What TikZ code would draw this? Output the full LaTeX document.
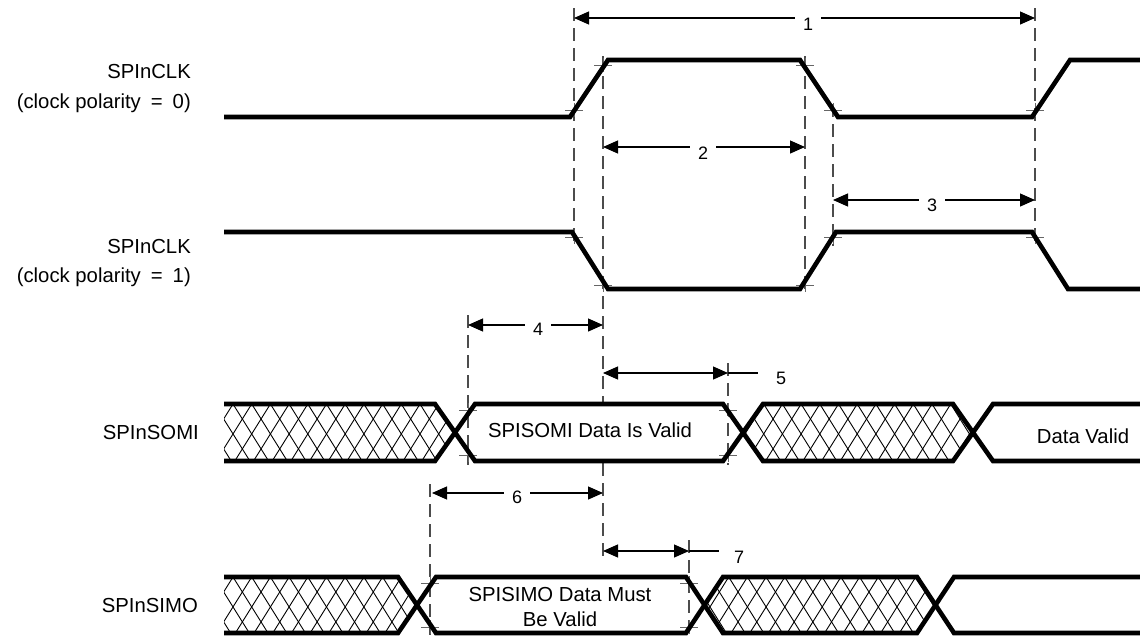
\documentclass[tikz,border=0pt]{standalone}
\usepackage{fontspec}
\setmainfont{Liberation Sans}
\usetikzlibrary{arrows.meta}
\newcommand\wideeq{\hspace{10pt}=\hspace{10pt}}
\begin{document}
\begin{tikzpicture}[x=1pt,y=-1pt,
  sig/.style={line width=4.6pt, line join=miter},
  guide/.style={black!70, line width=1.2pt, dash pattern=on 13pt off 7pt},
  tickmark/.style={black!60, line width=1pt},
  dim/.style={line width=1.2pt, {Triangle[length=15pt,width=13pt]}-{Triangle[length=15pt,width=13pt]}},
  extline/.style={line width=1.2pt},
  lbl/.style={font=\fontsize{20.3}{24}\selectfont, inner sep=0pt},
  num/.style={font=\fontsize{18}{20}\selectfont, fill=white, inner xsep=8pt, inner ysep=3pt},
  numfree/.style={font=\fontsize{18}{20}\selectfont, inner sep=0pt},
  hatchline/.style={line width=0.9pt}
]
\useasboundingbox (0,0) rectangle (1140,635);

% ---------- guide (dashed) lines ----------
\draw[guide] (574,8) -- (574,246);
\draw[guide] (603,56) -- (603,403);
\draw[guide] (603,463) -- (603,560);
\draw[guide] (805,56) -- (805,294);
\draw[guide] (833,104) -- (833,246);
\draw[guide] (1035,8) -- (1035,246);
\draw[guide] (468,315) -- (468,465);
\draw[guide] (728,363) -- (728,465);
\draw[guide] (430,484) -- (430,635);
\draw[guide] (689,540) -- (689,635);

% ---------- tick marks ----------
\foreach \x/\y in {574/110,574/237,603/65,603/285,805/65,805/285,833/110,833/237,
                   1035/110,1035/237,468/410,468/455,728/410,728/455,
                   430/583,430/627,689/583,689/627}
  \draw[tickmark] (\x-9,\y) -- (\x+9,\y) (\x,\y-7) -- (\x,\y+7);

% ---------- hatching ----------
\begin{scope}
  \clip (224,404) -- (435,404) -- (455,432.5) -- (435,461) -- (224,461) -- cycle;
  \foreach \k in {-3,...,14}
    \draw[hatchline] (233+\k*18.7,404) -- ++(35.6,57) (233+\k*18.7,404) -- ++(-35.6,57);
\end{scope}
\begin{scope}
  \clip (743,432.5) -- (763,404) -- (953,404) -- (973,432.5) -- (953,461) -- (763,461) -- cycle;
  \foreach \k in {-3,...,14}
    \draw[hatchline] (745+\k*18.7,404) -- ++(35.6,57) (745+\k*18.7,404) -- ++(-35.6,57);
\end{scope}
\begin{scope}
  \clip (224,577) -- (398,577) -- (417,605) -- (398,633) -- (224,633) -- cycle;
  \foreach \k in {-3,...,12}
    \draw[hatchline] (233+\k*18.7,577) -- ++(35,56) (233+\k*18.7,577) -- ++(-35,56);
\end{scope}
\begin{scope}
  \clip (704,605) -- (723,577) -- (917,577) -- (935,605) -- (917,633) -- (723,633) -- cycle;
  \foreach \k in {-3,...,14}
    \draw[hatchline] (710+\k*18.7,577) -- ++(35,56) (710+\k*18.7,577) -- ++(-35,56);
\end{scope}

% ---------- signals ----------
\draw[sig] (224,117) -- (570,117) -- (608,60) -- (800,60) -- (838,117) -- (1032,117) -- (1070,60) -- (1140,60);
\draw[sig] (224,232) -- (572,232) -- (608,289) -- (800,289) -- (836,232) -- (1032,232) -- (1068,289) -- (1140,289);

\draw[sig] (224,404) -- (435,404) -- (475,461) -- (723,461) -- (763,404) -- (953,404) -- (993,461) -- (1140,461);
\draw[sig] (224,461) -- (435,461) -- (475,404) -- (723,404) -- (763,461) -- (953,461) -- (993,404) -- (1140,404);

\draw[sig] (224,577) -- (398,577) -- (436,633) -- (686,633) -- (723,577) -- (917,577) -- (954,633) -- (1140,633);
\draw[sig] (224,633) -- (398,633) -- (436,577) -- (686,577) -- (723,633) -- (917,633) -- (954,577) -- (1140,577);

% ---------- dimension arrows ----------
\coordinate (a1) at (574,18);  \coordinate (b1) at (1035,18);
\coordinate (a2) at (603,147); \coordinate (b2) at (805,147);
\coordinate (a3) at (833,200); \coordinate (b3) at (1035,200);
\coordinate (a4) at (468,325); \coordinate (b4) at (603,325);
\coordinate (a5) at (603,373); \coordinate (b5) at (728,373); \coordinate (e5) at (758,373);
\coordinate (a6) at (432,493); \coordinate (b6) at (603,493);
\coordinate (a7) at (603,551); \coordinate (b7) at (689,551); \coordinate (e7) at (719,551);

\draw[dim] (a1) -- (b1);
\draw[dim] (a2) -- (b2);
\draw[dim] (a3) -- (b3);
\draw[dim] (a4) -- (b4);
\draw[dim] (a5) -- (b5);
\draw[extline] (b5) -- (e5);
\draw[dim] (a6) -- (b6);
\draw[dim] (a7) -- (b7);
\draw[extline] (b7) -- (e7);

\node[num, anchor=base] (n1) at (808,30) {1};
\node[num, anchor=base] (n2) at (703,159) {2};
\node[num, anchor=base] (n3) at (932,211) {3};
\node[num, anchor=base] (n4) at (538,335) {4};
\node[numfree, anchor=base] (n5) at (781,384) {5};
\node[num, anchor=base] (n6) at (517,503) {6};
\node[numfree, anchor=base] (n7) at (739,563) {7};

% ---------- texts ----------
\node[lbl, anchor=base east] (clk0a) at (191,78) {SPInCLK};
\node[lbl, anchor=base east] (clk0b) at (191,108) {(clock polarity\wideeq 0)};
\node[lbl, anchor=base east] (clk1a) at (191,253) {SPInCLK};
\node[lbl, anchor=base east] (clk1b) at (191,282) {(clock polarity\wideeq 1)};
\node[lbl, anchor=base east] (somi) at (199,439) {SPInSOMI};
\node[lbl, anchor=base east] (simo) at (198,612) {SPInSIMO};
\node[lbl, anchor=base] (somiv) at (590,437) {SPISOMI Data Is Valid};
\node[lbl, anchor=base] (dv) at (1083,443) {Data Valid};
\node[lbl, anchor=base] (simov1) at (560,601) {SPISIMO Data Must};
\node[lbl, anchor=base] (simov2) at (560,626) {Be Valid};
\end{tikzpicture}
\end{document}
